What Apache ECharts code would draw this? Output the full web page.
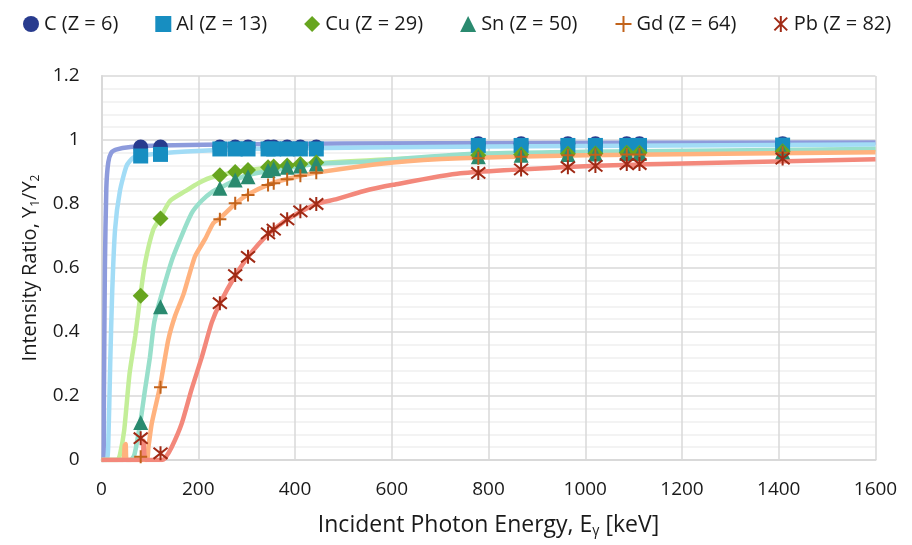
<!DOCTYPE html>
<html>
<head>
<meta charset="utf-8">
<script src="https://cdn.jsdelivr.net/npm/echarts@6/dist/echarts.min.js"></script>
<style>
  html, body { margin: 0; padding: 0; background: #fff; }
  #chart { width: 912px; height: 545px; }
</style>
</head>
<body>
<div id="chart"></div>
<script>
// gamma line energies (keV) where the ratio was measured
const energies = [81, 122, 244.7, 276.4, 302.9, 344.3, 356, 383.8, 411.1, 444, 778.9, 867.4, 964.1, 1021, 1085.8, 1112.1, 1408];

// measured ratios, one per energy
const cVals  = [0.978, 0.978, 0.978, 0.978, 0.978, 0.978, 0.978, 0.978, 0.978, 0.978, 0.988, 0.988, 0.988, 0.988, 0.988, 0.988, 0.988];
const alVals = [0.95, 0.955, 0.972, 0.972, 0.972, 0.972, 0.972, 0.972, 0.972, 0.972, 0.983, 0.983, 0.983, 0.983, 0.983, 0.983, 0.984];
const cuVals = [0.513, 0.755, 0.89, 0.9, 0.906, 0.915, 0.917, 0.92, 0.925, 0.93, 0.952, 0.955, 0.957, 0.958, 0.96, 0.96, 0.965];
const snVals = [0.117, 0.479, 0.849, 0.875, 0.885, 0.905, 0.91, 0.915, 0.919, 0.925, 0.948, 0.952, 0.955, 0.956, 0.958, 0.958, 0.963];
const gdVals = [0.01, 0.227, 0.752, 0.802, 0.828, 0.859, 0.865, 0.877, 0.888, 0.898, 0.943, 0.948, 0.952, 0.954, 0.955, 0.955, 0.96];
const pbVals = [0.068, 0.021, 0.49, 0.578, 0.635, 0.708, 0.72, 0.752, 0.777, 0.8, 0.897, 0.908, 0.915, 0.919, 0.925, 0.925, 0.942];

// model curves: [energy keV, ratio]
const cCurve = [[0, 0], [4, 0], [5, 0.2], [7, 0.6], [10, 0.85], [14, 0.93], [20, 0.96], [30, 0.97], [60, 0.978], [120, 0.983], [300, 0.987], [700, 0.99], [1600, 0.992]];
const alCurve = [[0, 0], [11, 0], [14, 0.05], [18, 0.3], [22, 0.52], [28, 0.72], [38, 0.84], [52, 0.92], [66, 0.945], [100, 0.955], [150, 0.962], [300, 0.972], [800, 0.98], [1600, 0.986]];
const cuCurve = [[0, 0], [33, 0], [38, 0.016], [47, 0.094], [58, 0.27], [70, 0.39], [80, 0.51], [90, 0.615], [107, 0.72], [121, 0.755], [142, 0.81], [173, 0.84], [200, 0.865], [231, 0.885], [300, 0.905], [444, 0.927], [600, 0.94], [800, 0.952], [1000, 0.958], [1600, 0.97]];
const snCurve = [[0, 0], [60, 0], [68, 0.016], [80, 0.115], [90, 0.22], [100, 0.32], [109, 0.43], [124, 0.516], [148, 0.635], [186, 0.77], [207, 0.81], [231, 0.84], [245, 0.85], [300, 0.89], [444, 0.925], [541, 0.932], [742, 0.955], [1000, 0.963], [1600, 0.972]];
const gdCurve = [[0, 0], [44, 0], [48, 0.045], [50, 0.05], [52, 0], [93, 0], [97, 0.04], [104, 0.115], [121, 0.23], [138, 0.375], [152, 0.45], [170, 0.52], [193, 0.635], [214, 0.69], [231, 0.74], [245, 0.755], [276, 0.8], [303, 0.83], [344, 0.86], [384, 0.878], [444, 0.898], [603, 0.93], [742, 0.943], [1000, 0.952], [1600, 0.962]];
const pbCurve = [[0, 0], [84, 0], [87, 0.06], [89, 0.01], [92, 0], [125, 0], [131, 0.005], [145, 0.04], [166, 0.115], [186, 0.22], [207, 0.32], [228, 0.43], [245, 0.49], [276, 0.575], [303, 0.635], [344, 0.705], [384, 0.752], [444, 0.8], [486, 0.815], [541, 0.84], [603, 0.86], [742, 0.896], [1000, 0.918], [1155, 0.925], [1600, 0.94]];

const yTicks = ["0", "0.2", "0.4", "0.6", "0.8", "1", "1.2"];

const FONT = "'Open Sans', 'Noto Sans', sans-serif";
const INK = "#1a1a1a";

const elements = [
  { name: "C (Z = 6)", vals: cVals, curve: cCurve, symbol: "circle", size: 15, mark: "#283b8e", line: "#8d9bdc" },
  { name: "Al (Z = 13)", vals: alVals, curve: alCurve, symbol: "rect", size: 15, mark: "#178ec1", line: "#a2dcf6" },
  { name: "Cu (Z = 29)", vals: cuVals, curve: cuCurve, symbol: "diamond", size: 16, mark: "#67a51f", line: "#c3ee98" },
  { name: "Sn (Z = 50)", vals: snVals, curve: snCurve, symbol: "triangle", size: 15, mark: "#2a8a6f", line: "#98dfcb" },
  { name: "Gd (Z = 64)", vals: gdVals, curve: gdCurve, symbol: "path://M5,0L5,10M0,5L10,5", size: 13, mark: "#c2631b", line: "#ffb27e", stroke: true },
  { name: "Pb (Z = 82)", vals: pbVals, curve: pbCurve, symbol: "path://M1,1L9,9M9,1L1,9M5,0L5,10", size: 14, mark: "#a02a15", line: "#f3887b", stroke: true }
];

const series = [];
// curves first so the markers sit on top
elements.forEach((el) => {
  series.push({
    name: el.name + " fit",
    type: "line",
    data: el.curve,
    showSymbol: false,
    smooth: 0.2,
    lineStyle: { color: el.line, width: 4.5 },
    z: 2,
    silent: true
  });
});
elements.forEach((el, i) => {
  series.push({
    name: el.name,
    type: "scatter",
    data: energies.map((e, k) => [e, el.vals[k]]),
    symbol: el.symbol,
    symbolSize: el.size,
    // scatter defaults to 0.8 opacity; the reference markers are solid
    itemStyle: el.stroke
      ? { color: el.mark, borderColor: el.mark, borderWidth: 2, opacity: 1 }
      : { color: el.mark, opacity: 1 },
    z: 10 + i
  });
});

// axis titles with subscripts
function subRich(size) {
  return {
    n: { fontSize: size, color: INK, fontFamily: FONT },
    s: { fontSize: Math.round(size * 0.6), color: INK, fontFamily: FONT, verticalAlign: "bottom", padding: [Math.round(size / 2), 0, 0, 0] }
  };
}

const chart = echarts.init(document.getElementById("chart"));
chart.setOption({
  animation: false,
  textStyle: { fontFamily: FONT },
  legend: {
    top: 9,
    left: 18,
    itemGap: 37,
    itemWidth: 16,
    itemHeight: 16,
    textStyle: { fontSize: 20, color: INK, fontFamily: FONT },
    data: elements.map((el) => el.name)
  },
  grid: { left: 101.5, right: 36.5, top: 76, bottom: 85 },
  xAxis: {
    type: "value",
    min: 0,
    max: 1600,
    interval: 200,
    name: "{n|Incident Photon Energy, E}{s|γ}{n| [keV]}",
    nameLocation: "middle",
    nameGap: 52,
    nameTextStyle: { rich: subRich(23) },
    axisLine: { show: true, lineStyle: { color: "#d9d9d9", width: 2 } },
    axisTick: { show: false },
    axisLabel: { fontSize: 19, color: INK, margin: 20, formatter: (v) => String(v) },
    splitLine: { show: true, lineStyle: { color: "#d9d9d9", width: 1.5 } }
  },
  yAxis: {
    type: "value",
    min: 0,
    max: 1.2,
    interval: 0.2,
    name: "{n|Intensity Ratio, Y}{s|1}{n|/Y}{s|2}",
    nameLocation: "middle",
    nameGap: 60,
    nameRotate: 90,
    nameTextStyle: { rich: subRich(20) },
    axisLine: { show: true, lineStyle: { color: "#d9d9d9", width: 2 } },
    axisTick: { show: false },
    axisLabel: {
      fontSize: 19,
      color: INK,
      margin: 22,
      formatter: (v) => yTicks[Math.round(v / 0.2)]
    },
    splitLine: { show: true, lineStyle: { color: "#d9d9d9", width: 1.5 } },
    minorTick: { show: false, splitNumber: 5 },
    minorSplitLine: { show: true, lineStyle: { color: "#f0f0f0", width: 1.5 } }
  },
  series: series
});
</script>
</body>
</html>
